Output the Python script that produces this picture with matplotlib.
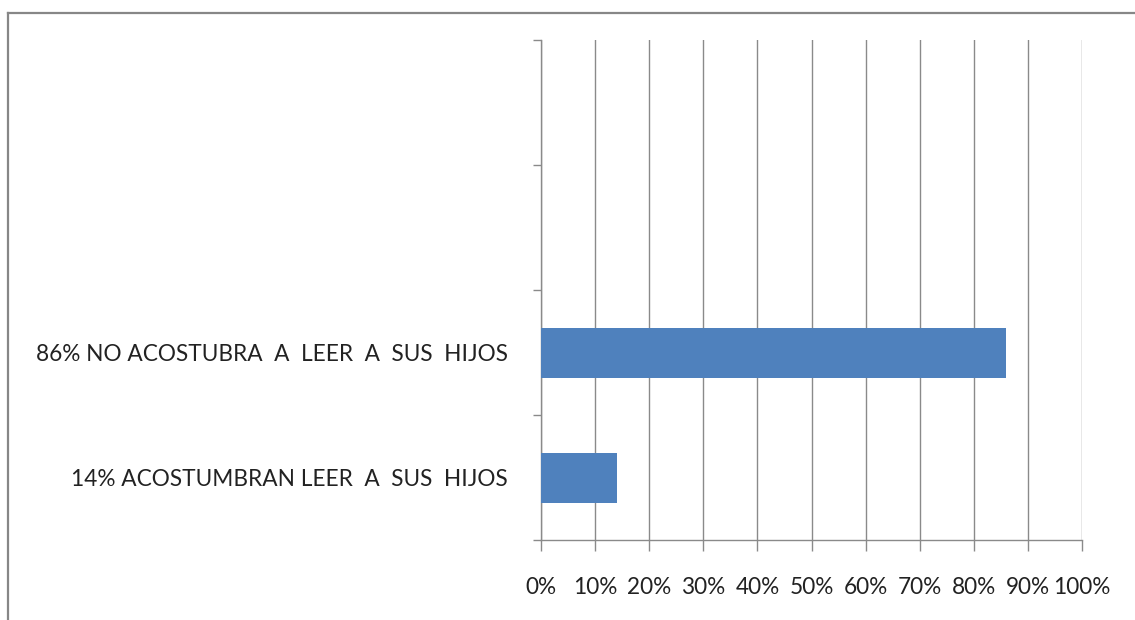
import matplotlib
matplotlib.use("Agg")
import matplotlib.pyplot as plt
from matplotlib.lines import Line2D
from matplotlib.ticker import FixedLocator, FuncFormatter

categories = ["14% ACOSTUMBRAN LEER  A  SUS  HIJOS",
              "86% NO ACOSTUBRA  A  LEER  A  SUS  HIJOS",
              "", ""]
values = [14, 86, 0, 0]
x_ticks = [0, 10, 20, 30, 40, 50, 60, 70, 80, 90, 100]

plt.rcParams['font.family'] = ['Lato', 'DejaVu Sans']
W, H = 1135, 620
fig = plt.figure(figsize=(W / 100, H / 100), dpi=100)
ax = fig.add_axes([541 / W, 1 - 540 / H, (1082 - 541) / W, 500 / H])

grey = "#8a8a8a"
pos = list(range(len(categories)))
ax.barh(pos, values, height=0.4, color="#4F81BD", zorder=3)
ax.set_xlim(0, 100)
ax.set_ylim(-0.5, len(categories) - 0.5)

ax.xaxis.set_major_locator(FixedLocator(x_ticks))
ax.xaxis.set_major_formatter(FuncFormatter(lambda v, p: f"{v:.0f}%"))
ax.grid(axis="x", color=grey, linewidth=1.0, zorder=0)
ax.tick_params(axis="x", length=8, width=1, color=grey, direction="out",
               labelsize=16.3, pad=19, labelcolor="#222222")

ax.set_yticks([p - 0.5 for p in pos] + [len(categories) - 0.5])
ax.set_yticklabels([])
ax.set_yticks(pos, minor=True)
ax.set_yticklabels(categories, minor=True)
ax.tick_params(axis="y", which="major", length=6, width=1, color=grey, direction="out")
ax.tick_params(axis="y", which="minor", length=0, labelsize=16.3, pad=24,
               labelcolor="#222222")

for s in ["top", "right"]:
    ax.spines[s].set_visible(False)
for s in ["left", "bottom"]:
    ax.spines[s].set_color(grey)
    ax.spines[s].set_linewidth(1.0)

# outer chart-area border (top and left edges visible)
fig.add_artist(Line2D([8 / W, 1], [1 - 13 / H, 1 - 13 / H], color="#878787",
                      linewidth=1.6, transform=fig.transFigure))
fig.add_artist(Line2D([8 / W, 8 / W], [0, 1 - 13 / H], color="#878787",
                      linewidth=1.6, transform=fig.transFigure))

fig.savefig("out.png", dpi=100, facecolor="white")
